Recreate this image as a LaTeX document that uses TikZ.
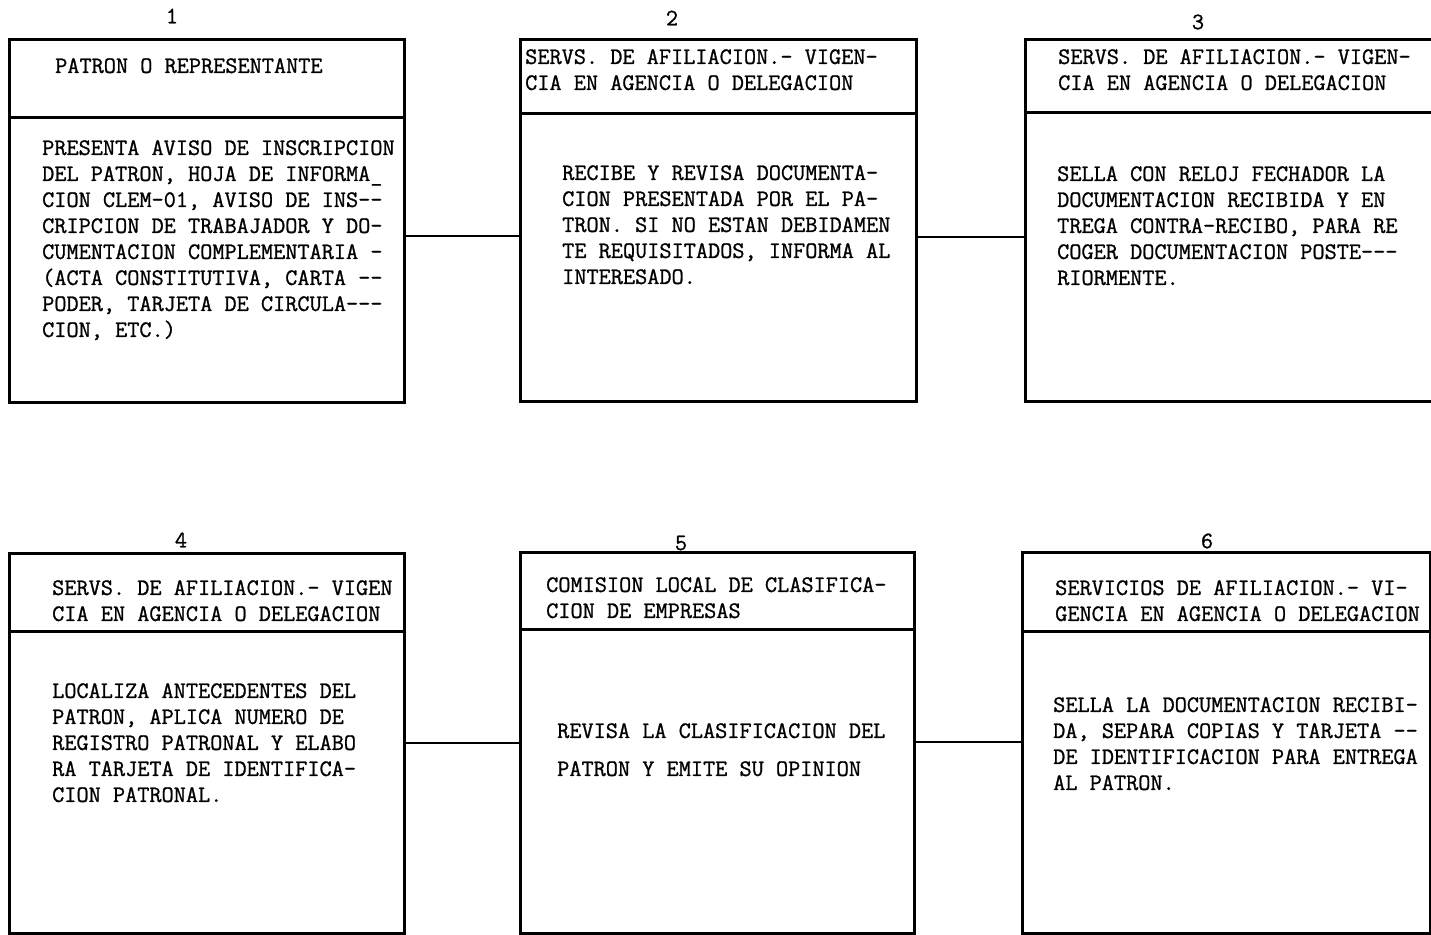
\documentclass[tikz,border=0pt]{standalone}
\usepackage{fontspec}
\setmonofont{Latin Modern Mono}[FakeBold=1]
\begin{document}
\begin{tikzpicture}[x=1pt,y=-1pt,
  part/.style={draw=black, line width=2.8pt, rectangle, anchor=north west, inner sep=0pt},
  conn/.style={draw=black, line width=2.4pt},
  txt/.style={anchor=north west, inner sep=0pt, align=left, font=\ttfamily\fontsize{23.6}{26}\selectfont, text=black},
  num/.style={anchor=center, inner sep=0pt, font=\ttfamily\fontsize{23.6}{26}\selectfont}]
\useasboundingbox (0,0) rectangle (1431,934);
% ---- Box 1
\node[part, minimum width=395pt, minimum height=78pt] (h1) at (8,38) {};
\node[part, minimum width=395pt, minimum height=285pt] (b1) at (8,116) {};
\node[num] (n1) at (172,16) {1};
\node[txt] (h1t) at (55,58) {PATRON O REPRESENTANTE};
\node[txt] (b1t) at (42,140) {PRESENTA AVISO DE INSCRIPCION\\DEL PATRON, HOJA DE INFORMA\_\\CION CLEM-01, AVISO DE INS--\\CRIPCION DE TRABAJADOR Y DO-\\CUMENTACION COMPLEMENTARIA -\\(ACTA CONSTITUTIVA, CARTA --\\PODER, TARJETA DE CIRCULA---\\CION, ETC.)};
% ---- Box 2
\node[part, minimum width=396pt, minimum height=74pt] (h2) at (519,38) {};
\node[part, minimum width=396pt, minimum height=288pt] (b2) at (519,112) {};
\node[num] (n2) at (672,18) {2};
\node[txt] (h2t) at (525,49) {SERVS. DE AFILIACION.- VIGEN-\\CIA EN AGENCIA O DELEGACION};
\node[txt] (b2t) at (562,165) {RECIBE Y REVISA DOCUMENTA-\\CION PRESENTADA POR EL PA-\\TRON. SI NO ESTAN DEBIDAMEN\\TE REQUISITADOS, INFORMA AL\\INTERESADO.};
% ---- Box 3
\node[part, minimum width=416pt, minimum height=73pt] (h3) at (1024,38) {};
\node[part, minimum width=416pt, minimum height=289pt] (b3) at (1024,111) {};
\node[num] (n3) at (1198,22) {3};
\node[txt] (h3t) at (1058,49) {SERVS. DE AFILIACION.- VIGEN-\\CIA EN AGENCIA O DELEGACION};
\node[txt] (b3t) at (1057,166) {SELLA CON RELOJ FECHADOR LA\\DOCUMENTACION RECIBIDA Y EN\\TREGA CONTRA-RECIBO, PARA RE\\COGER DOCUMENTACION POSTE---\\RIORMENTE.};
% ---- Box 4
\node[part, minimum width=395pt, minimum height=78pt] (h4) at (8,552) {};
\node[part, minimum width=395pt, minimum height=302pt] (b4) at (8,630) {};
\node[num] (n4) at (181,540) {4};
\node[txt] (h4t) at (52,580) {SERVS. DE AFILIACION.- VIGEN\\CIA EN AGENCIA O DELEGACION};
\node[txt] (b4t) at (52,683) {LOCALIZA ANTECEDENTES DEL\\PATRON, APLICA NUMERO DE\\REGISTRO PATRONAL Y ELABO\\RA TARJETA DE IDENTIFICA-\\CION PATRONAL.};
% ---- Box 5
\node[part, minimum width=394pt, minimum height=77pt] (h5) at (519,551) {};
\node[part, minimum width=394pt, minimum height=304pt] (b5) at (519,628) {};
\node[num] (n5) at (681,543) {5};
\node[txt] (h5t) at (546,577) {COMISION LOCAL DE CLASIFICA-\\CION DE EMPRESAS};
\node[txt, font=\ttfamily\fontsize{23.6}{38}\selectfont] (b5t) at (557,723) {REVISA LA CLASIFICACION DEL\\PATRON Y EMITE SU OPINION};
% ---- Box 6
\node[part, minimum width=408pt, minimum height=79pt] (h6) at (1021,551) {};
\node[part, minimum width=408pt, minimum height=302pt] (b6) at (1021,630) {};
\node[num] (n6) at (1207,541) {6};
\node[txt] (h6t) at (1055,580) {SERVICIOS DE AFILIACION.- VI-\\GENCIA EN AGENCIA O DELEGACION};
\node[txt] (b6t) at (1053,697) {SELLA LA DOCUMENTACION RECIBI-\\DA, SEPARA COPIAS Y TARJETA --\\DE IDENTIFICACION PARA ENTREGA\\AL PATRON.};
% ---- connectors
\coordinate (c12) at (0,236);
\coordinate (c23) at (0,237);
\coordinate (c45) at (0,743);
\coordinate (c56) at (0,742);
\draw[conn] (b1.east |- c12) -- (b2.west |- c12);
\draw[conn] (b2.east |- c23) -- (b3.west |- c23);
\draw[conn] (b4.east |- c45) -- (b5.west |- c45);
\draw[conn] (b5.east |- c56) -- (b6.west |- c56);
\end{tikzpicture}
\end{document}
